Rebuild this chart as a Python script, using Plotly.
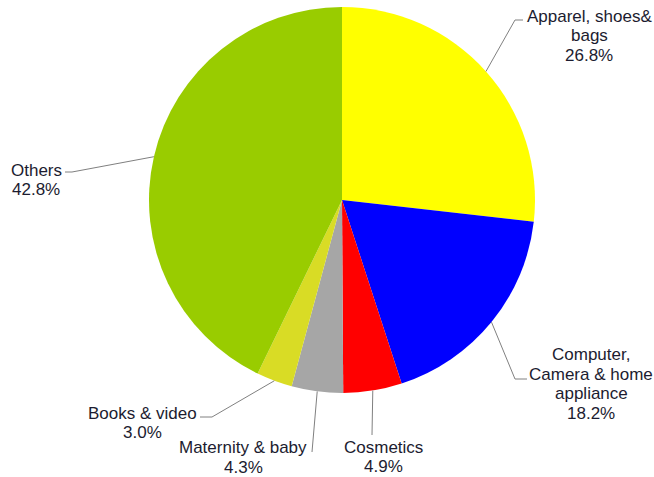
import math
import plotly.graph_objects as go

# ---- data ----
categories = [["Apparel, shoes&", "bags"], ["Computer,", "Camera & home", "appliance"], ["Cosmetics"],
              ["Maternity & baby"], ["Books & video"], ["Others"]]
shares = [26.8, 18.2, 4.9, 4.3, 3.0, 42.8]
colors = ["#ffff00", "#0000ff", "#ff0000", "#a6a6a6", "#d9dc25", "#99cc00"]

# ---- layout constants (window pixels) ----
FW, FH = 654, 477
CX, CY, R = 342, 200, 193
LINE_GAP = 19.5
# label block centre and leader path (elbow, end) per slice
label_pos = [(589, 36), (591, 384), (383, 457), (243, 457.5), (142, 423), (36, 180)]
leader = [
    [(515, 20), (523, 20)],
    [(515, 379), (527, 379)],
    [(372, 435)],
    [(312, 452)],
    [(212, 417), (200, 417)],
    [(72, 172), (65, 172)],
]


def px(x):
    return x / FW


def py(y):
    return 1 - y / FH


def clamp(v):
    return max(0.0, min(1.0, v))


fig = go.Figure()
fig.add_trace(go.Pie(
    labels=[" ".join(c) for c in categories],
    values=shares,
    sort=False,
    direction="clockwise",
    rotation=0,
    marker=dict(colors=colors, line=dict(width=0)),
    textinfo="none",
    hoverinfo="label+percent",
    domain=dict(x=[clamp(px(CX - R)), clamp(px(CX + R))],
                y=[clamp(py(CY + R)), clamp(py(CY - R))]),
    showlegend=False,
))

total = sum(shares)
cum = 0.0
shapes = []
annotations = []
font = dict(family="Liberation Sans, Arial, sans-serif", size=17, color="#1c1c30")
for i, (cat, v) in enumerate(zip(categories, shares)):
    mid = (cum + v / 2) / total * 2 * math.pi
    cum += v
    ax = CX + R * math.sin(mid)
    ay = CY - R * math.cos(mid)
    pts = [(ax, ay)] + leader[i]
    path = "M " + " L ".join(f"{px(x)},{py(y)}" for x, y in pts)
    shapes.append(dict(type="path", xref="paper", yref="paper", path=path,
                       line=dict(color="#808080", width=1)))
    lines = cat + [f"{v:.1f}%"]
    lx, ly = label_pos[i]
    y0 = ly - LINE_GAP * (len(lines) - 1) / 2
    for k, t in enumerate(lines):
        annotations.append(dict(
            x=px(lx), y=py(y0 + k * LINE_GAP), xref="paper", yref="paper",
            text=t, showarrow=False, align="center",
            xanchor="center", yanchor="middle", font=font,
        ))

fig.update_layout(
    width=FW, height=FH,
    margin=dict(l=0, r=0, t=0, b=0),
    paper_bgcolor="white",
    plot_bgcolor="white",
    shapes=shapes,
    annotations=annotations,
    hovermode=False,
)
fig.write_html(
    "out.html",
    config={"displayModeBar": False},
    post_script="document.body.style.margin='0';document.body.style.overflow='hidden';",
)
